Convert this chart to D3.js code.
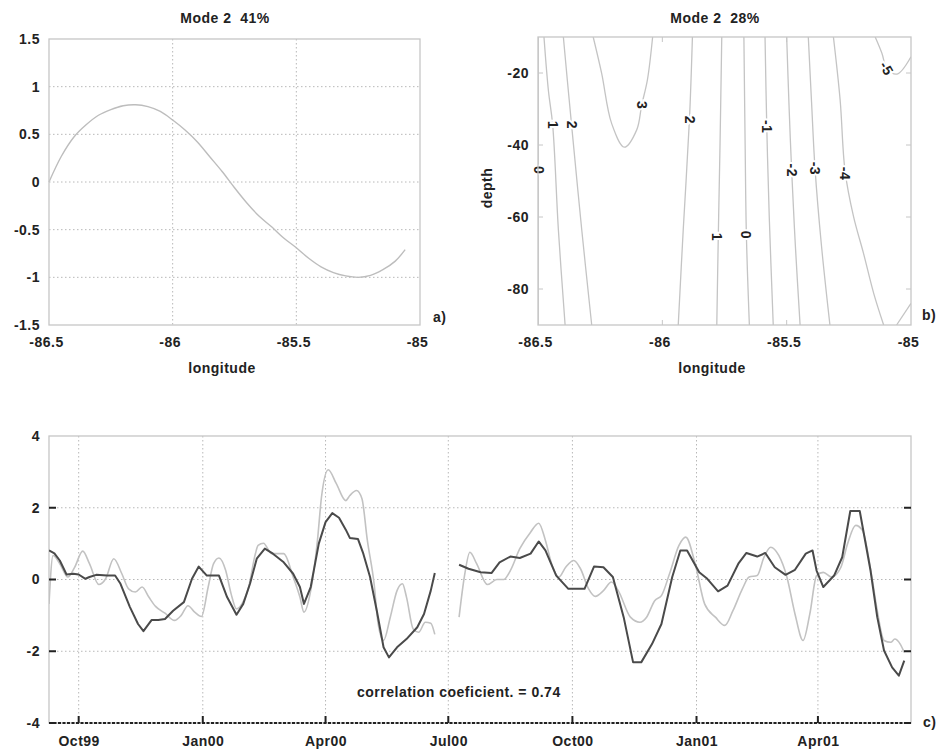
<!DOCTYPE html>
<html>
<head>
<meta charset="utf-8">
<script src="https://cdn.jsdelivr.net/npm/d3@7"></script>
<style>
  body { margin: 0; background: #fff; }
  svg text { font-family: "Liberation Sans", Arial, Helvetica, sans-serif; font-weight: bold; font-size: 14px; fill: #222; letter-spacing: 0.5px; }
</style>
</head>
<body>
<svg id="fig" width="940" height="752"></svg>
<script>
// ---- panel a: spatial mode along longitude
const aLon = [-86.5, -86.45, -86.4, -86.35, -86.3, -86.25, -86.2, -86.15, -86.1, -86.05, -86.0, -85.95, -85.9, -85.85, -85.8,
  -85.75, -85.7, -85.65, -85.6, -85.55, -85.5, -85.45, -85.4, -85.35, -85.3, -85.25, -85.2, -85.15, -85.1, -85.06];
const aVal = [0, 0.27, 0.47, 0.6, 0.7, 0.76, 0.8, 0.81, 0.79, 0.74, 0.65, 0.545, 0.42, 0.265, 0.11,
  -0.06, -0.22, -0.36, -0.47, -0.59, -0.69, -0.8, -0.89, -0.95, -0.985, -1.0, -0.98, -0.92, -0.83, -0.71];
const aXTicks = [-86.5, -86, -85.5, -85];
const aYTicks = [-1.5, -1, -0.5, 0, 0.5, 1, 1.5];

// ---- panel b: contour lines [lon, depth]
const bXTicks = [-86.5, -86, -85.5, -85];
const bYTicks = [-80, -60, -40, -20];
const contourLevels = [0, 1, 2, 3, 2, 1, 0, -1, -2, -3, -4, -5, -5];
const contourPaths = [
  [[-86.499, -10], [-86.499, -90]],
  [[-86.476, -10], [-86.458, -25], [-86.441, -34.4], [-86.418, -63.6], [-86.391, -90]],
  [[-86.398, -10], [-86.382, -22], [-86.365, -34.4], [-86.324, -63.6], [-86.284, -90]],
  [[-86.278, -10], [-86.244, -20.1], [-86.204, -34], [-86.153, -40.6], [-86.103, -35.8], [-86.083, -28.9], [-86.06, -21.9], [-86.039, -10]],
  [[-85.879, -10], [-85.891, -33], [-85.916, -63.6], [-85.936, -90]],
  [[-85.761, -10], [-85.768, -40], [-85.775, -65.5], [-85.781, -90]],
  [[-85.672, -10], [-85.667, -40], [-85.662, -65], [-85.650, -90]],
  [[-85.587, -10], [-85.580, -35], [-85.570, -60], [-85.554, -90]],
  [[-85.500, -10], [-85.490, -30], [-85.480, -47], [-85.465, -68], [-85.446, -90]],
  [[-85.413, -10], [-85.400, -28], [-85.386, -46.5], [-85.360, -68], [-85.326, -90]],
  [[-85.312, -10], [-85.285, -27.5], [-85.265, -47.4], [-85.231, -59.9], [-85.191, -70.1], [-85.150, -81.2], [-85.110, -90]],
  [[-85.144, -10], [-85.117, -14.5], [-85.097, -18.7], [-85.056, -20.3], [-85.0, -15.5]],
  [[-85.058, -90], [-85.0, -84]]
];
const labelText = ["0", "1", "2", "3", "2", "1", "0", "-1", "-2", "-3", "-4", "-5"];
const labelLon = [-86.496, -86.441, -86.365, -86.083, -85.891, -85.779, -85.664, -85.580, -85.480, -85.386, -85.265, -85.098];
const labelDepth = [-47, -34.4, -34.4, -28.9, -33, -65.5, -65, -34.9, -47, -46.5, -47.9, -18.7];
const labelAngle = [90, 90, 90, 90, 90, 90, 90, 90, 90, 90, 90, 60];

// ---- panel c: time series (days since 1999-09-09)
const startDay = "1999-09-09";
const endDay = "2001-06-09";
const cTickDates = ["1999-10-01", "2000-01-01", "2000-04-01", "2000-07-01", "2000-10-01", "2001-01-01", "2001-04-01"];
const cYTicks = [-4, -2, 0, 2, 4];
const darkDays = [0, 4, 8, 13, 18, 22, 27, 30, 35, 43, 49, 53, 60, 66, 70, 76, 81, 86, 92, 100, 106, 111, 117, 126, 132, 139, 144, 149, 154, 160,
  166, 174, 181, 186, 189, 194, 200, 205, 210, 215, 220, 223, 229, 233, 238, 243, 248, 252, 258, 265, 273, 278, 283, 286, 296, 304, 311, 320,
  328, 334, 342, 349, 357, 363, 368, 376, 385, 397, 404, 411, 418, 426, 433, 439, 447, 454, 462, 468, 473, 482, 488, 496, 503, 511, 517, 525,
  531, 538, 546, 553, 561, 566, 569, 574, 582, 588, 594, 601, 609, 614, 619, 625, 630, 634];
const darkVals = [0.81, 0.73, 0.53, 0.14, 0.16, 0.14, 0.02, 0.07, 0.13, 0.11, 0.11, -0.12, -0.77, -1.24, -1.44, -1.13, -1.13, -1.10, -0.87, -0.63,
  0.02, 0.36, 0.11, 0.11, -0.49, -0.98, -0.68, -0.12, 0.58, 0.86, 0.72, 0.48, 0.16, -0.21, -0.68, -0.21, 1.0, 1.6, 1.85, 1.72, 1.39, 1.16, 1.13,
  0.72, 0.07, -0.87, -1.89, -2.17, -1.89, -1.66, -1.33, -0.96, -0.31, 0.18, null, 0.41, 0.30, 0.2, 0.18, 0.48, 0.64, 0.6, 0.72, 1.06, 0.81, 0.11,
  -0.26, -0.26, 0.36, 0.34, 0.07, -1.05, -2.31, -2.31, -1.8, -1.24, 0.07, 0.81, 0.81, 0.2, 0.02, -0.33, -0.17, 0.44, 0.74, 0.64, 0.74, 0.34, 0.13,
  0.27, 0.72, 0.81, 0.25, -0.21, 0.11, 0.62, 1.91, 1.91, 0.25, -1.05, -1.98, -2.45, -2.68, -2.26];
const lightDays = [0, 3, 8, 14, 19, 25, 30, 37, 42, 48, 54, 59, 64, 69, 74, 79, 86, 93, 98, 103, 108, 113, 118, 122, 126, 131, 135, 139, 143, 148,
  153, 155, 159, 165, 174, 181, 186, 189, 194, 199, 202, 207, 213, 220, 223, 228, 232, 236, 241, 244, 248, 253, 258, 262, 265, 270, 274, 279, 283,
  286, 296, 304, 308, 312, 317, 325, 332, 337, 342, 349, 357, 363, 368, 373, 378, 383, 389, 394, 400, 405, 411, 417, 422, 431, 438, 443, 449, 454,
  460, 467, 472, 479, 486, 494, 501, 507, 514, 519, 525, 530, 535, 541, 547, 553, 559, 564, 569, 574, 580, 587, 592, 598, 603, 610, 614, 619, 624,
  627, 631, 634];
const lightVals = [-0.68, 0.67, 0.44, 0.07, 0.34, 0.79, 0.44, -0.14, 0.02, 0.58, 0.16, -0.26, -0.35, -0.21, -0.49, -0.75, -0.94, -1.14, -1.0, -0.73,
  -0.91, -1.03, -0.21, 0.44, 0.6, 0.25, -0.4, -0.82, -0.68, -0.21, 0.72, 0.95, 1.01, 0.72, 0.72, 0.07, -0.49, -0.91, -0.31, 1.09, 2.3, 3.06, 2.67,
  2.2, 2.34, 2.48, 2.25, 1.09, -0.12, -1.24, -1.7, -1.05, -0.31, -0.12, -0.49, -1.38, -1.47, -1.19, -1.22, -1.53, null, -1.05, 0.1, 0.76, 0.44,
  -0.14, 0, 0, 0.25, 0.86, 1.32, 1.57, 1.09, 0.39, 0.07, 0.34, 0.53, 0.3, -0.26, -0.47, -0.31, -0.07, -0.31, -1.05, -1.19, -1.05, -0.59, -0.45,
  0.16, 0.95, 1.18, 0.44, -0.68, -1.05, -1.28, -0.87, -0.26, 0.07, 0.11, 0.62, 0.9, 0.67, 0.07, -0.96, -1.7, -0.96, 0.11, 0.2, 0.07, 0.34, 1.0,
  1.51, 1.37, 0.07, -0.87, -1.7, -1.75, -1.66, -1.8, -2.03];

const svg = d3.select("#fig");
const frameColor = "#c6c6c6";
const gridColor = "#b8b8b8";

function clip(id, x0, y0, x1, y1) {
  svg.append("clipPath").attr("id", id).append("rect")
    .attr("x", x0).attr("y", y0).attr("width", x1 - x0).attr("height", y1 - y0);
}

function frame(x0, y0, x1, y1) {
  svg.append("rect").attr("x", x0).attr("y", y0).attr("width", x1 - x0).attr("height", y1 - y0)
    .attr("fill", "none").attr("stroke", frameColor).attr("stroke-width", 1.3);
}

function cleanAxis(g) {
  g.select(".domain").remove();
  g.selectAll("line").remove();
}

// ================= panel a =================
const xa = d3.scaleLinear().domain([-86.5, -85]).range([49, 420]);
const ya = d3.scaleLinear().domain([-1.5, 1.5]).range([325, 39]);

// dotted grid
svg.append("g").selectAll("line").data(aXTicks.slice(1, -1)).enter().append("line")
  .attr("x1", d => xa(d)).attr("x2", d => xa(d)).attr("y1", 39).attr("y2", 325)
  .attr("stroke", gridColor).attr("stroke-dasharray", "1.5,2.5");
svg.append("g").selectAll("line").data(aYTicks.slice(1, -1)).enter().append("line")
  .attr("x1", 49).attr("x2", 420).attr("y1", d => ya(d)).attr("y2", d => ya(d))
  .attr("stroke", gridColor).attr("stroke-dasharray", "1.5,2.5");

svg.append("path").datum(aLon.map((d, i) => [d, aVal[i]]))
  .attr("fill", "none").attr("stroke", "#bdbdbd").attr("stroke-width", 1.4)
  .attr("d", d3.line().x(d => xa(d[0])).y(d => ya(d[1])).curve(d3.curveCatmullRom));

frame(49, 39, 420, 325);

svg.append("g").attr("transform", "translate(49,0)")
  .call(d3.axisLeft(ya).tickValues(aYTicks).tickSize(0).tickPadding(9).tickFormat(d => String(d)))
  .call(cleanAxis);
svg.append("g").attr("transform", "translate(0,325)")
  .call(d3.axisBottom(xa).tickValues(aXTicks).tickSize(0).tickPadding(12).tickFormat(d => String(d)))
  .call(cleanAxis)
  .selectAll("text").attr("dx", -3);

svg.append("text").attr("x", 225).attr("y", 23).attr("text-anchor", "middle")
  .style("white-space", "pre").text("Mode 2  41%");
svg.append("text").attr("x", 222).attr("y", 373).attr("text-anchor", "middle").text("longitude");
svg.append("text").attr("x", 433).attr("y", 322).text("a)");

// ================= panel b =================
const xb = d3.scaleLinear().domain([-86.5, -85]).range([538, 911]);
const yb = d3.scaleLinear().domain([-90, -10]).range([325, 37]);
clip("clipB", 538, 37, 911, 325);

const cLine = d3.line().x(d => xb(d[0])).y(d => yb(d[1])).curve(d3.curveCatmullRom);
svg.append("g").attr("clip-path", "url(#clipB)")
  .selectAll("path").data(contourPaths).enter().append("path")
  .attr("fill", "none").attr("stroke", "#c4c4c4").attr("stroke-width", 1.3)
  .attr("d", cLine);

svg.append("g").selectAll("text").data(labelText).enter().append("text")
  .attr("transform", (d, i) => `translate(${xb(labelLon[i])},${yb(labelDepth[i])}) rotate(${labelAngle[i]})`)
  .attr("text-anchor", "middle").attr("dy", "0.35em")
  .attr("stroke", "#fff").attr("stroke-width", 4).attr("paint-order", "stroke")
  .text(d => d);

frame(538, 37, 911, 325);

// small inner ticks
const bTick = svg.append("g").attr("stroke", frameColor).attr("stroke-width", 1);
bXTicks.slice(1, -1).forEach(v => {
  bTick.append("line").attr("x1", xb(v)).attr("x2", xb(v)).attr("y1", 325).attr("y2", 320);
  bTick.append("line").attr("x1", xb(v)).attr("x2", xb(v)).attr("y1", 37).attr("y2", 42);
});
bYTicks.forEach(v => {
  bTick.append("line").attr("x1", 538).attr("x2", 543).attr("y1", yb(v)).attr("y2", yb(v));
  bTick.append("line").attr("x1", 911).attr("x2", 906).attr("y1", yb(v)).attr("y2", yb(v));
});

svg.append("g").attr("transform", "translate(538,0)")
  .call(d3.axisLeft(yb).tickValues(bYTicks).tickSize(0).tickPadding(9).tickFormat(d => String(d)))
  .call(cleanAxis);
svg.append("g").attr("transform", "translate(0,325)")
  .call(d3.axisBottom(xb).tickValues(bXTicks).tickSize(0).tickPadding(12).tickFormat(d => String(d)))
  .call(cleanAxis)
  .selectAll("text").attr("dx", -3);

svg.append("text").attr("x", 715).attr("y", 23).attr("text-anchor", "middle")
  .style("white-space", "pre").text("Mode 2  28%");
svg.append("text").attr("x", 712).attr("y", 373).attr("text-anchor", "middle").text("longitude");
svg.append("text").attr("transform", "translate(492,188) rotate(-90)").attr("text-anchor", "middle").text("depth");
svg.append("text").attr("x", 922).attr("y", 320).text("b)");

// ================= panel c =================
const parse = d3.timeParse("%Y-%m-%d");
const t0 = parse(startDay);
const xc = d3.scaleTime().domain([t0, parse(endDay)]).range([49, 911]);
const yc = d3.scaleLinear().domain([-4, 4]).range([723, 436]);
const tickDates = cTickDates.map(parse);
clip("clipC", 49, 436, 911, 723);

svg.append("g").selectAll("line").data(tickDates).enter().append("line")
  .attr("x1", d => xc(d)).attr("x2", d => xc(d)).attr("y1", 436).attr("y2", 723)
  .attr("stroke", gridColor).attr("stroke-dasharray", "1.5,2.5");
svg.append("g").selectAll("line").data(cYTicks.slice(1, -1)).enter().append("line")
  .attr("x1", 49).attr("x2", 911).attr("y1", d => yc(d)).attr("y2", d => yc(d))
  .attr("stroke", gridColor).attr("stroke-dasharray", "1.5,2.5");

frame(49, 436, 911, 723);

const series = (days, vals) => days.map((d, i) => ({ t: d3.timeDay.offset(t0, d), v: vals[i] }));
const tsLine = d3.line().defined(d => d.v !== null).x(d => xc(d.t)).y(d => yc(d.v));

svg.append("path").datum(series(lightDays, lightVals)).attr("clip-path", "url(#clipC)")
  .attr("fill", "none").attr("stroke", "#c2c2c2").attr("stroke-width", 1.6)
  .attr("d", tsLine.curve(d3.curveMonotoneX));
svg.append("path").datum(series(darkDays, darkVals)).attr("clip-path", "url(#clipC)")
  .attr("fill", "none").attr("stroke", "#4a4a4a").attr("stroke-width", 2)
  .attr("stroke-linejoin", "round")
  .attr("d", tsLine.curve(d3.curveLinear));

// black axis line and ticks
svg.append("line").attr("x1", 49).attr("x2", 911).attr("y1", 723).attr("y2", 723)
  .attr("stroke", "#222").attr("stroke-width", 2).attr("stroke-dasharray", "3,1.5");
const cTick = svg.append("g").attr("stroke", "#222").attr("stroke-width", 2);
tickDates.forEach(d => {
  cTick.append("line").attr("x1", xc(d)).attr("x2", xc(d)).attr("y1", 723).attr("y2", 716);
});
cYTicks.slice(0, -1).forEach(v => {
  cTick.append("line").attr("x1", 49).attr("x2", 56).attr("y1", yc(v)).attr("y2", yc(v));
  cTick.append("line").attr("x1", 904).attr("x2", 911).attr("y1", yc(v)).attr("y2", yc(v));
});

svg.append("g").attr("transform", "translate(49,0)")
  .call(d3.axisLeft(yc).tickValues(cYTicks).tickSize(0).tickPadding(9).tickFormat(d => String(d)))
  .call(cleanAxis);
svg.append("g").attr("transform", "translate(0,723)")
  .call(d3.axisBottom(xc).tickValues(tickDates).tickSize(0).tickPadding(13).tickFormat(d3.timeFormat("%b%y")))
  .call(cleanAxis);

svg.append("text").attr("x", 357).attr("y", 697).text("correlation coeficient. = 0.74");
svg.append("text").attr("x", 923).attr("y", 727).text("c)");
</script>
</body>
</html>
